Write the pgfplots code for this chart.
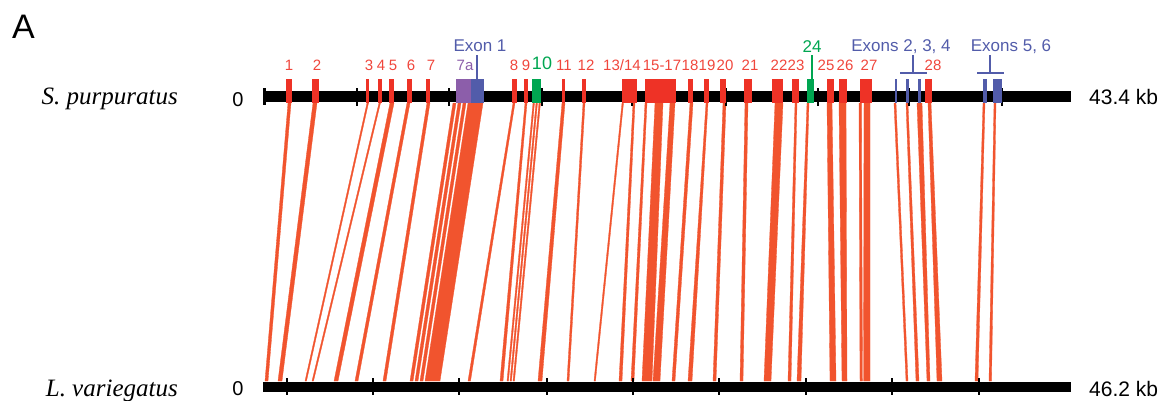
\documentclass[border=0pt]{standalone}
\usepackage{fontspec}
\setmainfont{Liberation Sans}
\newfontfamily\timesfont{Liberation Serif}
\usepackage{pgfplots}
\pgfplotsset{compat=1.18}

\definecolor{linkc}{RGB}{241,84,46}
\definecolor{exred}{RGB}{238,50,38}
\definecolor{labred}{RGB}{240,70,60}
\definecolor{exblue}{RGB}{82,92,170}
\definecolor{expurple}{RGB}{140,94,170}
\definecolor{exgreen}{RGB}{0,166,81}

% conserved block joining the two sequences: top span -> bottom span
\newcommand{\lnk}[4]{\addplot[fill=linkc, draw=linkc, line width=0.3bp]
  coordinates {(#1,103) (#2,103) (#4,381) (#3,381)} -- cycle;}
% exon / feature box on the upper sequence
\newcommand{\exon}[3]{\addplot[fill=#3, draw=none]
  coordinates {(#1,79) (#2,79) (#2,103) (#1,103)} -- cycle;}
% tick mark across a sequence bar
\newcommand{\tk}[4]{\addplot[black, line width=#4] coordinates {(#1,#2) (#1,#3)};}
% small number above an exon
\newcommand{\num}[3][labred]{\node[text=#1, anchor=base, inner sep=0pt,
  font=\fontsize{15bp}{18bp}\selectfont] at (axis cs:#2,70) {#3};}

\begin{document}
\begin{tikzpicture}
\begin{axis}[
  scale only axis, width=1174bp, height=400bp,
  xmin=0, xmax=1174, ymin=0, ymax=400, y dir=reverse,
  hide axis, clip=false]

% ---- alignments between the two sequences ----
\lnk{288}{291}{265}{268}
\lnk{313}{317}{278}{282}
\lnk{367}{368.5}{305}{306.5}
\lnk{379}{380.5}{312}{313.5}
\lnk{390}{394}{334}{338}
\lnk{407}{410}{355}{358}
\lnk{427}{430}{383}{386}
\lnk{453}{456}{410}{413}
\lnk{458}{461}{415}{418}
\lnk{463}{466}{420}{423}
\lnk{468}{483}{425}{440}
\lnk{513}{515}{468}{470.5}
\lnk{525}{527}{500}{503}
\lnk{533}{534.5}{507}{508.5}
\lnk{536}{537.5}{510}{511.5}
\lnk{539}{540.5}{513}{514.5}
\lnk{562}{565}{538}{542}
\lnk{583}{585}{567}{569}
\lnk{622}{623.5}{594}{595.5}
\lnk{633}{635}{619}{622}
\lnk{645}{647}{631}{634}
\lnk{655}{663}{642}{652}
\lnk{670}{675}{653}{660}
\lnk{690}{693}{672}{675}
\lnk{706}{708}{688}{692}
\lnk{723}{726}{713}{716}
\lnk{745}{748}{740}{743}
\lnk{775}{783}{764}{771}
\lnk{795}{797}{788}{791}
\lnk{807}{809}{797}{801}
\lnk{827}{832}{830}{836}
\lnk{839}{846}{842}{847}
\lnk{859}{861.5}{860}{862.5}
\lnk{864}{870}{863.5}{870}
\lnk{894}{896}{906}{908}
\lnk{906}{908}{916}{919}
\lnk{917}{922}{927}{930}
\lnk{928}{931}{937}{942}
\lnk{983}{985}{975}{978}
\lnk{994}{996}{989}{991.5}

% ---- sequence bars ----
\addplot[fill=black, draw=none] coordinates {(264,91) (1071,91) (1071,102) (264,102)} -- cycle;
\addplot[fill=black, draw=none] coordinates {(263,382) (1071,382) (1071,392) (263,392)} -- cycle;
\tk{264}{88}{105}{3bp}
\tk{357}{88}{106}{2bp}
\tk{449}{88}{106}{2bp}
\tk{542}{88}{106}{2bp}
\tk{632}{88}{106}{2bp}
\tk{726}{88}{106}{2bp}
\tk{818}{88}{106}{2bp}
\tk{909}{88}{106}{2bp}
\tk{1002}{88}{106}{2bp}
\tk{287}{378}{395}{2bp}
\tk{373}{378}{395}{2bp}
\tk{459}{378}{395}{2bp}
\tk{547}{378}{395}{2bp}
\tk{633}{378}{395}{2bp}
\tk{719}{378}{395}{2bp}
\tk{806}{378}{395}{2bp}
\tk{892}{378}{395}{2bp}
\tk{979}{378}{395}{2bp}

% ---- exons of the upper sequence ----
\exon{286}{292}{exred}
\exon{312}{319}{exred}
\exon{366}{369}{exred}
\exon{378}{382}{exred}
\exon{389}{394}{exred}
\exon{407}{412}{exred}
\exon{426}{430}{exred}
\exon{456}{471}{expurple}
\exon{471}{484}{exblue}
\exon{512}{517}{exred}
\exon{524}{528}{exred}
\exon{532}{541}{exgreen}
\exon{562}{565}{exred}
\exon{582}{586}{exred}
\exon{622}{637}{exred}
\exon{645}{676}{exred}
\exon{688}{693}{exred}
\exon{704}{709}{exred}
\exon{720}{726}{exred}
\exon{744}{752}{exred}
\exon{772}{783}{exred}
\exon{792}{799}{exred}
\exon{807}{814}{exgreen}
\exon{827}{834}{exred}
\exon{839}{847}{exred}
\exon{860}{872}{exred}
\exon{895}{897}{exblue}
\exon{906}{909}{exblue}
\exon{918}{921}{exblue}
\exon{925}{932}{exred}
\exon{983}{987}{exblue}
\exon{993}{1002}{exblue}

% ---- pointer lines and brackets ----
\addplot[exblue, line width=1.5bp] coordinates {(477,55) (477,79)};
\addplot[exgreen, line width=1.5bp] coordinates {(812,55) (812,79)};
\addplot[exblue, line width=1.5bp] coordinates {(913,55) (913,73)};
\addplot[exblue, line width=1.5bp] coordinates {(900,73) (927,73)};
\addplot[exblue, line width=1.5bp] coordinates {(990,55) (990,73)};
\addplot[exblue, line width=1.5bp] coordinates {(977,73) (1004,73)};

% ---- exon labels ----
\num{289}{1}
\num{317}{2}
\num{369}{3}
\num{381}{4}
\num{393}{5}
\num{411}{6}
\num{431}{7}
\num[expurple]{465}{7a}
\num{514}{8}
\num{526}{9}
\num{564}{11}
\num{586}{12}
\num{622}{13/14}
\num{662}{15-17}
\num{690}{18}
\num{707}{19}
\num{725}{20}
\num{750}{21}
\num{779}{22}
\num{796}{23}
\num{826}{25}
\num{845}{26}
\num{869}{27}
\num{933}{28}
\node[text=exgreen, anchor=base, inner sep=0pt, font=\fontsize{18bp}{20bp}\selectfont] at (axis cs:542,69) {10};
\node[text=exgreen, anchor=base, inner sep=0pt, font=\fontsize{17bp}{20bp}\selectfont] at (axis cs:812,52) {24};
\node[text=exblue, anchor=base, inner sep=0pt, font=\fontsize{17bp}{20bp}\selectfont] at (axis cs:480,51) {Exon 1};
\node[text=exblue, anchor=base, inner sep=0pt, font=\fontsize{17bp}{20bp}\selectfont] at (axis cs:901,51) {Exons 2, 3, 4};
\node[text=exblue, anchor=base, inner sep=0pt, font=\fontsize{17bp}{20bp}\selectfont] at (axis cs:1011,51) {Exons 5, 6};

% ---- sequence names and lengths ----
\node[anchor=base west, inner sep=0pt, font=\fontsize{34bp}{36bp}\selectfont] at (axis cs:12,38) {A};
\node[anchor=base east, inner sep=0pt, font=\timesfont\itshape\fontsize{25bp}{28bp}\selectfont] at (axis cs:178,104) {S. purpuratus};
\node[anchor=base east, inner sep=0pt, font=\timesfont\itshape\fontsize{25bp}{28bp}\selectfont] at (axis cs:178,396) {L. variegatus};
\node[anchor=base, inner sep=0pt, font=\fontsize{20bp}{22bp}\selectfont] at (axis cs:238,106) {0};
\node[anchor=base, inner sep=0pt, font=\fontsize{20bp}{22bp}\selectfont] at (axis cs:238,395) {0};
\node[anchor=base west, inner sep=0pt, font=\fontsize{21bp}{24bp}\selectfont] at (axis cs:1089,104) {43.4 kb};
\node[anchor=base west, inner sep=0pt, font=\fontsize{21bp}{24bp}\selectfont] at (axis cs:1089,396) {46.2 kb};
\end{axis}
\pgfresetboundingbox
\path (current axis.south west) rectangle (current axis.north east);
\end{tikzpicture}
\end{document}
